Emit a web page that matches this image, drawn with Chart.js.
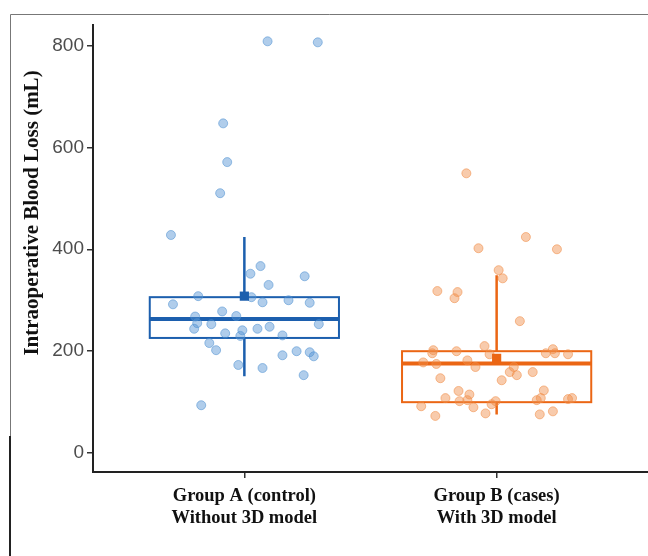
<!DOCTYPE html>
<html>
<head>
<meta charset="utf-8">
<script src="https://cdn.jsdelivr.net/npm/chart.js@4.4.0/dist/chart.umd.min.js"></script>
<style>
  html, body { margin: 0; padding: 0; background: #fff; }
  #wrap { width: 648px; height: 556px; position: relative; }
</style>
</head>
<body>
<div id="wrap"><canvas id="bloodChart"></canvas></div>
<script>
// categories (two-line labels) and y ticks
const categories = [['Group A (control)', 'Without 3D model'], ['Group B (cases)', 'With 3D model']];
const yTicks = [0, 200, 400, 600, 800];

// jittered observations: [x position in category units, blood loss mL]
const groupA = [
  [1.092, 808], [1.291, 806], [0.916, 647], [0.932, 571], [0.904, 510],
  [0.709, 428], [1.064, 367], [1.024, 352], [1.239, 347], [1.096, 330],
  [0.817, 308], [1.028, 306], [1.175, 300], [1.072, 296], [1.259, 295],
  [0.717, 292], [0.912, 278], [0.805, 268], [0.968, 269], [0.813, 255],
  [0.869, 253], [1.295, 253], [0.801, 244], [0.992, 241], [1.052, 244],
  [1.100, 248], [0.924, 235], [0.984, 230], [1.151, 231], [0.861, 216],
  [0.888, 202], [1.151, 192], [1.207, 200], [1.259, 198], [1.275, 190],
  [0.976, 173], [1.072, 167], [1.235, 153], [0.829, 94]
];
const groupB = [
  [1.880, 549], [2.116, 424], [2.239, 400], [1.928, 402], [2.008, 359],
  [2.024, 343], [1.765, 318], [1.845, 316], [1.833, 304], [2.092, 259],
  [1.952, 210], [1.749, 202], [1.745, 196], [1.841, 200], [1.972, 194],
  [2.195, 196], [2.223, 204], [2.231, 196], [2.283, 194], [1.709, 178],
  [1.761, 175], [1.884, 182], [1.916, 169], [2.068, 169], [2.052, 159],
  [2.080, 153], [2.143, 159], [1.777, 147], [2.020, 143], [1.849, 122],
  [1.892, 115], [2.187, 123], [1.797, 108], [1.853, 102], [1.884, 104],
  [1.996, 102], [2.159, 104], [2.175, 108], [2.283, 106], [2.299, 108],
  [1.701, 92], [1.908, 90], [1.980, 96], [1.757, 73], [1.956, 78],
  [2.171, 76], [2.223, 82]
];

// box statistics per group
const q1 = [226, 100];
const median = [263, 176];
const q3 = [306, 200];
const whiskerLow = [151, 76];
const whiskerHigh = [424, 349];
const means = [308, 186];

const boxColors = ['#1c5fae', '#eb6614'];
const BOX_HALF = 0.375;

const toPoints = arr => arr.map(p => ({ x: p[0], y: p[1] }));

// frame lines around the figure
const framePlugin = {
  id: 'frame',
  beforeDraw(chart) {
    const ctx = chart.ctx;
    ctx.save();
    ctx.strokeStyle = '#777';
    ctx.lineWidth = 1;
    ctx.beginPath();
    ctx.moveTo(10.5, 436);
    ctx.lineTo(10.5, 14.5);
    ctx.lineTo(648, 14.5);
    ctx.stroke();
    ctx.strokeStyle = '#222';
    ctx.lineWidth = 2;
    ctx.beginPath();
    ctx.moveTo(10, 436);
    ctx.lineTo(10, 556);
    ctx.stroke();
    ctx.restore();
  }
};

// boxes, whiskers and medians drawn from the scales
const boxPlugin = {
  id: 'boxes',
  beforeDatasetsDraw(chart) {
    const { ctx, scales: { x, y } } = chart;
    ctx.save();
    for (let i = 0; i < q1.length; i++) {
      const cx = x.getPixelForValue(i + 1);
      const left = x.getPixelForValue(i + 1 - BOX_HALF);
      const right = x.getPixelForValue(i + 1 + BOX_HALF);
      ctx.strokeStyle = boxColors[i];
      // whiskers
      ctx.lineWidth = 2.5;
      ctx.beginPath();
      ctx.moveTo(cx, y.getPixelForValue(whiskerHigh[i]));
      ctx.lineTo(cx, y.getPixelForValue(q3[i]));
      ctx.moveTo(cx, y.getPixelForValue(q1[i]));
      ctx.lineTo(cx, y.getPixelForValue(whiskerLow[i]));
      ctx.stroke();
      // box
      ctx.lineWidth = 2;
      const top = y.getPixelForValue(q3[i]);
      const bot = y.getPixelForValue(q1[i]);
      ctx.strokeRect(left, top, right - left, bot - top);
      // median
      ctx.lineWidth = 4;
      ctx.beginPath();
      const my = y.getPixelForValue(median[i]);
      ctx.moveTo(left, my);
      ctx.lineTo(right, my);
      ctx.stroke();
    }
    ctx.restore();
  }
};

// rotated y-axis title
const yTitlePlugin = {
  id: 'yTitle',
  afterDraw(chart) {
    const ctx = chart.ctx;
    ctx.save();
    ctx.translate(33, 213);
    ctx.rotate(-Math.PI / 2);
    ctx.font = 'bold 21px "Liberation Serif", "Times New Roman", serif';
    ctx.fillStyle = '#111';
    ctx.textAlign = 'center';
    ctx.textBaseline = 'middle';
    ctx.fillText('Intraoperative Blood Loss (mL)', 0, 0);
    ctx.restore();
  }
};

document.addEventListener('DOMContentLoaded', () => {
  const ctx = document.getElementById('bloodChart').getContext('2d');
  new Chart(ctx, {
    type: 'scatter',
    data: {
      datasets: [
        {
          label: 'Mean',
          data: means.map((m, i) => ({ x: i + 1, y: m })),
          pointStyle: 'rect',
          pointRadius: 6.5,
          backgroundColor: boxColors,
          borderColor: boxColors,
          borderWidth: 0,
          order: 0
        },
        {
          label: 'Group A',
          data: toPoints(groupA),
          pointRadius: 4.5,
          backgroundColor: 'rgba(80,145,210,0.45)',
          borderColor: 'rgba(80,145,210,0.55)',
          borderWidth: 1,
          order: 1
        },
        {
          label: 'Group B',
          data: toPoints(groupB),
          pointRadius: 4.5,
          backgroundColor: 'rgba(240,140,70,0.45)',
          borderColor: 'rgba(240,140,70,0.55)',
          borderWidth: 1,
          order: 1
        }
      ]
    },
    options: {
      responsive: true,
      maintainAspectRatio: false,
      animation: false,
      layout: { autoPadding: false, padding: { top: 25, right: 0, bottom: 0, left: 0 } },
      plugins: {
        legend: { display: false },
        tooltip: { enabled: false }
      },
      scales: {
        x: {
          type: 'linear',
          min: 0.4,
          max: 2.6,
          afterBuildTicks: scale => { scale.ticks = categories.map((c, i) => ({ value: i + 1 })); },
          afterFit: scale => { scale.height = 84; },
          grid: { display: true, drawOnChartArea: false, drawTicks: true, tickLength: 6, color: '#333', lineWidth: 1.5 },
          border: { display: true, color: '#222', width: 2 },
          ticks: {
            autoSkip: false,
            maxRotation: 0,
            padding: 7,
            color: '#111',
            font: { family: '"Liberation Serif", "Times New Roman", serif', size: 18.5, weight: 'bold', lineHeight: 1.2 },
            callback: (v) => categories[Math.round(v) - 1]
          }
        },
        y: {
          min: -37,
          max: 840,
          afterBuildTicks: scale => { scale.ticks = yTicks.map(v => ({ value: v })); },
          afterFit: scale => { scale.width = 93; },
          grid: { display: true, drawOnChartArea: false, drawTicks: true, tickLength: 6, color: '#333', lineWidth: 1.5 },
          border: { display: true, color: '#222', width: 2 },
          ticks: {
            padding: 3,
            color: '#4d4d4d',
            font: { family: '"Liberation Sans", Arial, sans-serif', size: 19 }
          }
        }
      }
    },
    plugins: [framePlugin, boxPlugin, yTitlePlugin]
  });
});
</script>
</body>
</html>
